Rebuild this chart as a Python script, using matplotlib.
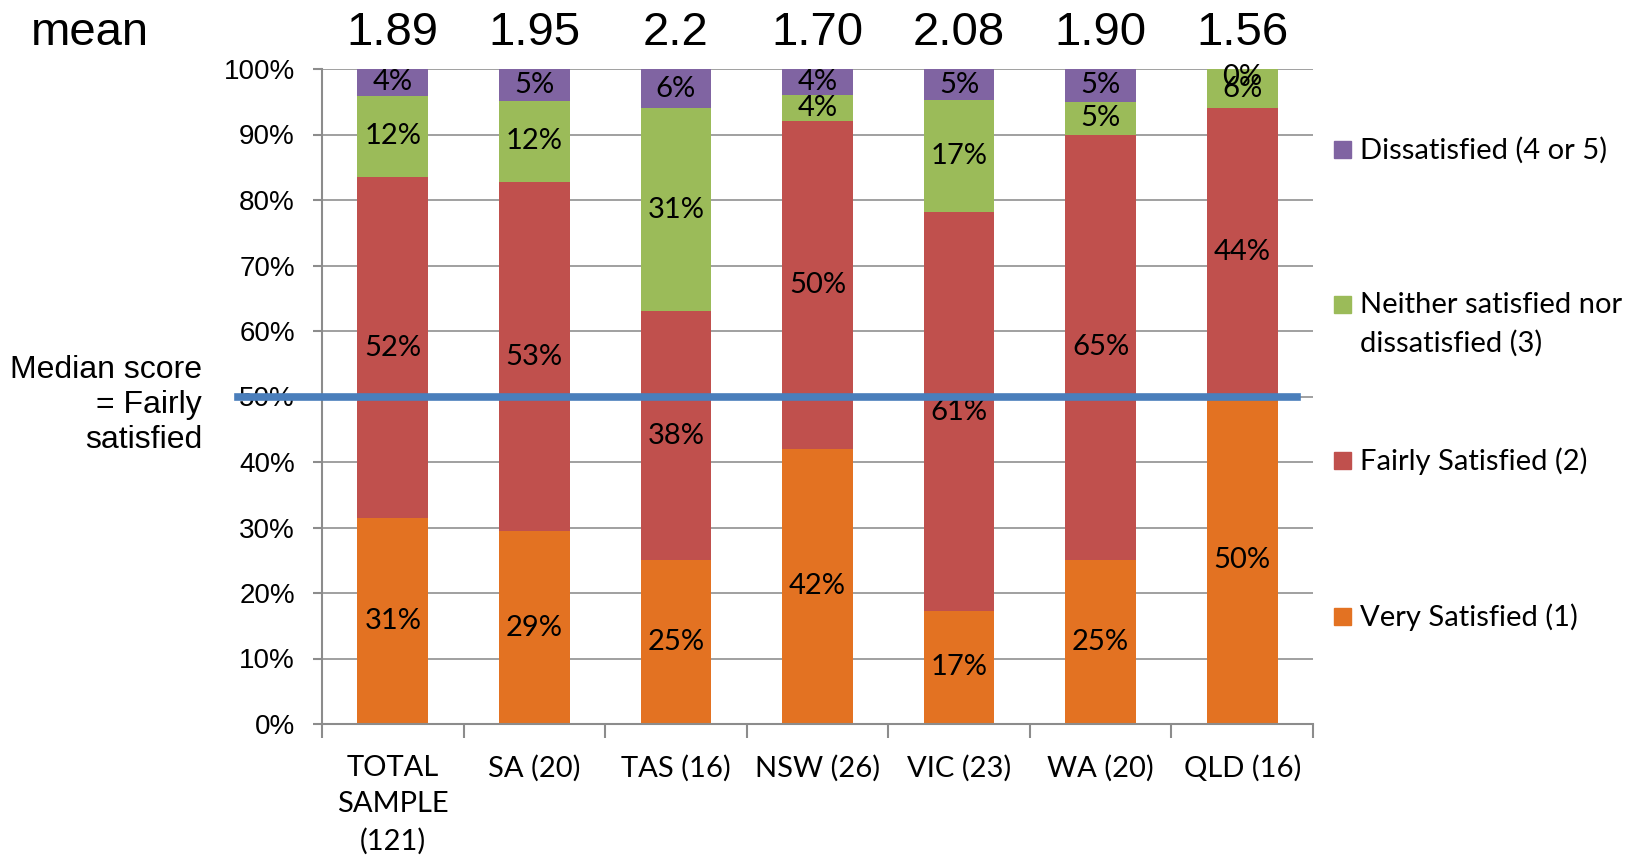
"""stacked satisfaction bars by state"""
import matplotlib
matplotlib.use('Agg')
import matplotlib.pyplot as plt
from matplotlib.patches import Rectangle
from matplotlib.transforms import blended_transform_factory
import numpy as np

categories = ['TOTAL\nSAMPLE\n(121)', 'SA (20)', 'TAS (16)', 'NSW (26)', 'VIC (23)', 'WA (20)', 'QLD (16)']
means = ['1.89', '1.95', '2.2', '1.70', '2.08', '1.90', '1.56']

# stacked from the bottom: very satisfied -> dissatisfied (percent)
very_satisfied = [31.4, 29.4, 25.0, 42.0, 17.3, 25.0, 50.0]
fairly_satisfied = [52.1, 53.4, 38.0, 50.0, 60.8, 65.0, 44.0]
neither = [12.4, 12.3, 31.0, 4.0, 17.1, 5.0, 6.0]
dissatisfied = [4.1, 4.9, 6.0, 4.0, 4.8, 5.0, 0.0]

series = [
    ('Very Satisfied (1)', very_satisfied, '#E37222'),
    ('Fairly Satisfied (2)', fairly_satisfied, '#C0504D'),
    ('Neither satisfied nor\ndissatisfied (3)', neither, '#9BBB59'),
    ('Dissatisfied (4 or 5)', dissatisfied, '#8064A2'),
]

LABEL_FONT = 'Lato'
ARIAL = 'Liberation Sans'

fig = plt.figure(figsize=(16.4, 8.61), dpi=100)
ax = fig.add_axes([322 / 1640, 1 - 724 / 861, (1313 - 322) / 1640, (724 - 69) / 861])

x = np.arange(len(categories))
bottom = np.zeros(len(categories))
for name, values, color in series:
    values = np.array(values)
    ax.bar(x, values, width=0.5, bottom=bottom, color=color, zorder=2)
    for xi, b, v in zip(x, bottom, values):
        y = b + v / 2
        offset = -6 if v == 0 else 0
        ax.annotate('%d%%' % round(v), (xi, y), xytext=(0, offset), textcoords='offset points',
                    ha='center', va='center', fontsize=21, family=LABEL_FONT, zorder=4)
    bottom += values

ax.set_xlim(-0.5, len(categories) - 0.5)
ax.set_ylim(0, 100)
ax.set_yticks(np.arange(0, 101, 10))
ax.set_yticklabels(['%d%%' % v for v in range(0, 101, 10)], family=ARIAL, fontsize=20)
ax.set_xticks(x)
ax.set_xticklabels(categories, family=LABEL_FONT, fontsize=21, linespacing=1.5)
ax.set_xticks(np.arange(-0.5, len(categories)), minor=True)
ax.tick_params(axis='x', which='major', length=0, pad=22)
ax.tick_params(axis='x', which='minor', length=10, width=1.5, color='#8C8C8C')
ax.tick_params(axis='y', length=6.5, width=1.5, color='#8C8C8C', pad=13)
ax.grid(axis='y', color='#A0A0A0', linewidth=1.4, zorder=0)
ax.set_axisbelow(True)
for side in ['top', 'right']:
    ax.spines[side].set_visible(False)
for side in ['left', 'bottom']:
    ax.spines[side].set_color('#8C8C8C')
    ax.spines[side].set_linewidth(1.5)

# median reference line, runs over the y tick labels
ax.axhline(50, xmin=(238 - 322) / 991, xmax=(1297 - 322) / 991, color='#4A7EBB',
           linewidth=5.5, clip_on=False, zorder=5)

# mean scores above the bars
trans = blended_transform_factory(ax.transData, ax.transAxes)
for xi, m in zip(x, means):
    ax.text(xi, 1.055, m, transform=trans, ha='center', va='center', fontsize=34, family=ARIAL)
fig.text(31 / 1640, 1 - 33 / 861, 'mean', ha='left', va='center', fontsize=34, family=ARIAL)

fig.text(202 / 1640, 1 - 405 / 861, 'Median score\n= Fairly\nsatisfied', ha='right', va='center',
         fontsize=23, family=ARIAL, linespacing=1.2, multialignment='right')

# legend with the marker aligned to the first text line
legend_y = [150, 305, 461, 617]
for (name, values, color), ly in zip(reversed(series), legend_y):
    fig.patches.append(Rectangle((1334 / 1640, 1 - (ly + 8) / 861), 17 / 1640, 17 / 861,
                                 transform=fig.transFigure, color=color))
    for k, line in enumerate(name.split('\n')):
        fig.text(1360 / 1640, 1 - (ly + 38 * k) / 861, line, ha='left', va='center',
                 fontsize=21, family=LABEL_FONT)

plt.savefig('out.png', dpi=100)
